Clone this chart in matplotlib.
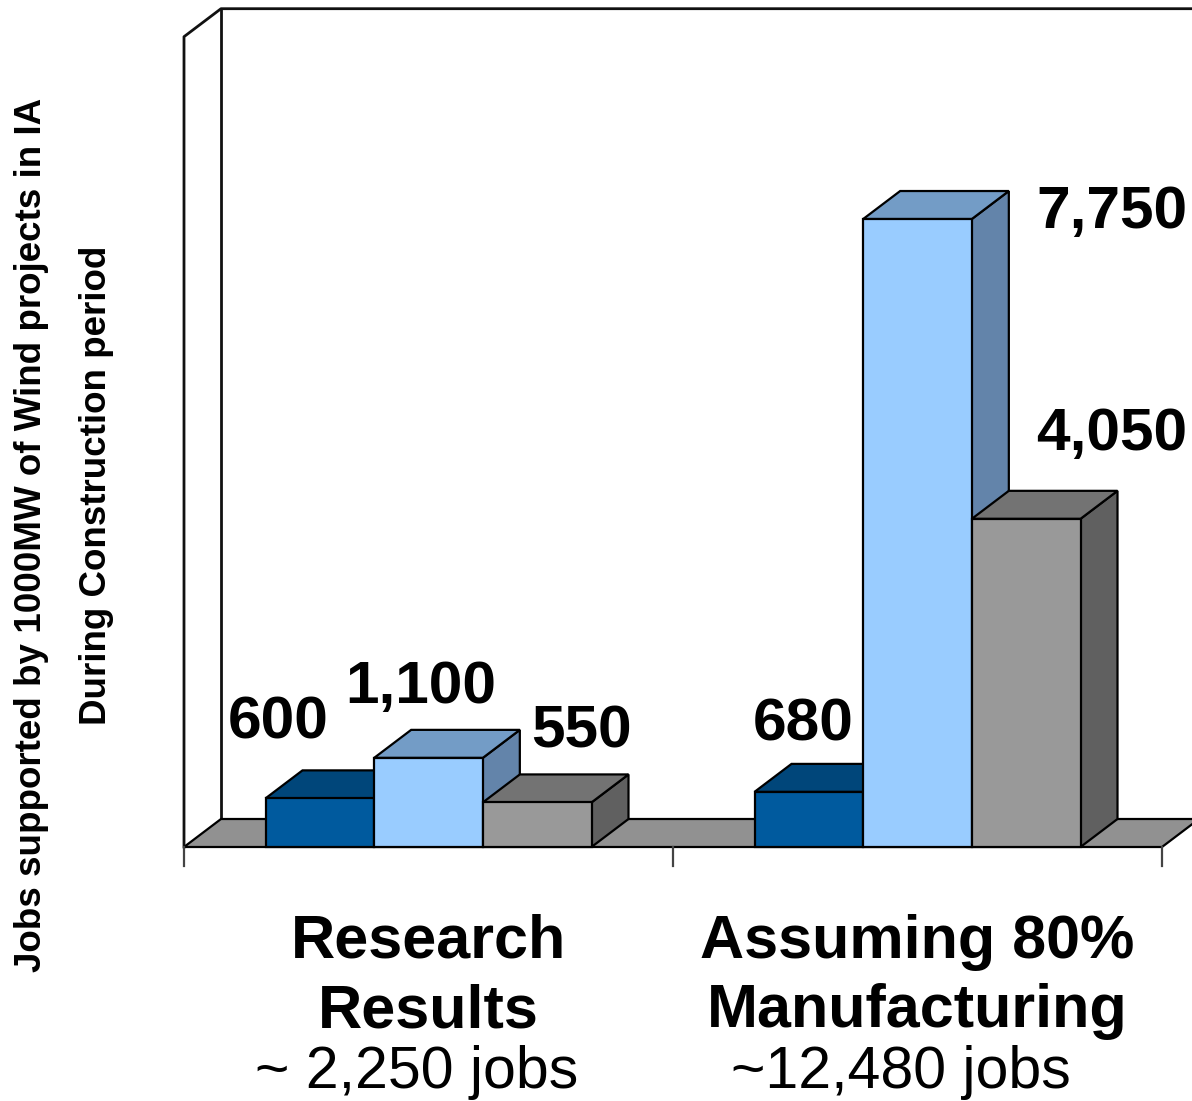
## Jobs supported by 1000MW of wind projects in IA - pseudo 3D column chart
import matplotlib
matplotlib.use("Agg")
import matplotlib.pyplot as plt
from matplotlib.patches import Polygon

plt.rcParams['font.family'] = ['Liberation Sans', 'DejaVu Sans']

categories = [["Research", "Results"], ["Assuming 80%", "Manufacturing"]]
totals = ["~ 2,250 jobs", "~12,480 jobs"]
series_a = [600, 680]      # dark blue
series_b = [1100, 7750]    # light blue
series_c = [550, 4050]     # gray
value_labels = [["600", "1,100", "550"], ["680", "7,750", "4,050"]]

# (front, top, side) colours for each series
colors = [("#005a9e", "#00467a", "#003a66"),
          ("#99ccff", "#739cc6", "#6384aa"),
          ("#999999", "#737373", "#606060")]

fig = plt.figure(figsize=(11.92, 11.01), dpi=100)
ax = fig.add_axes([184 / 1192, 254 / 1101, 978 / 1192, 810.3 / 1101])
ax.set_xlim(-0.5, 1.5)
ax.set_ylim(0, 10000)
ax.axis('off')

px = 0.08103           # pixels per job on the value axis
dx = 37 / 489          # depth in category units
dy = 28 / px           # depth in value units
ymax = 10000
w = 1 / 4.5            # bar width (gap width 150%)
lw = 1.6


def face(pts, color, z=2):
    ax.add_patch(Polygon(pts, closed=True, facecolor=color, edgecolor='black',
                         linewidth=lw, joinstyle='miter', clip_on=False, zorder=z))


# walls
ax.plot([-0.5, -0.5, -0.5 + dx, 1.5 + dx], [0, ymax, ymax + dy, ymax + dy],
        color='#111111', lw=2, clip_on=False, zorder=1)
ax.plot([-0.5 + dx, -0.5 + dx], [dy, ymax + dy], color='#111111', lw=2,
        clip_on=False, zorder=1)
# floor
face([(-0.5, 0), (1.5, 0), (1.5 + dx, dy), (-0.5 + dx, dy)], "#919191", z=1)
# category ticks
for t in [-0.5, 0.5, 1.5]:
    ax.plot([t, t], [0, -19 / px], color='#444444', lw=lw, clip_on=False, zorder=1)

# bars
data = [series_a, series_b, series_c]
for i in range(len(categories)):
    for j in range(3):
        h = data[j][i]
        x0 = i + (j - 1.5) * w
        x1 = x0 + w
        front, top, side = colors[j]
        face([(x1, 0), (x1 + dx, dy), (x1 + dx, h + dy), (x1, h)], side)
        face([(x0, h), (x1, h), (x1 + dx, h + dy), (x0 + dx, h + dy)], top)
        face([(x0, 0), (x1, 0), (x1, h), (x0, h)], front)

# value labels (hand placed like the original)
label_pos = [[(-0.308, 1345), (-0.015, 1777), (0.312, 1222)],
             [(0.766, 1320), (1.398, 7639), (1.398, 4900)]]
for i in range(len(categories)):
    for j in range(3):
        x, y = label_pos[i][j]
        ax.text(x, y, value_labels[i][j], ha='center', va='baseline',
                fontsize=43.5, fontweight='bold', clip_on=False)

# category labels
for i, lines in enumerate(categories):
    ax.text(i, -(958 - 847) / px, lines[0], ha='center', va='baseline',
            fontsize=44, fontweight='bold')
    ax.text(i, -(1027 - 847) / px, lines[1], ha='center', va='baseline',
            fontsize=44, fontweight='bold')
    ax.text(i - 0.025 - 0.01 * i, -(1088 - 847) / px, totals[i], ha='center',
            va='baseline', fontsize=42.5)

# y axis title, two lines
fig.text(32 / 1192, 1 - 535 / 1101, "Jobs supported by 1000MW of Wind projects in IA",
         rotation=90, ha='center', va='center', fontsize=26.5, fontweight='bold')
fig.text(97 / 1192, 1 - 485 / 1101, "During Construction period",
         rotation=90, ha='center', va='center', fontsize=26.5, fontweight='bold')

fig.savefig("out.png", dpi=100)
